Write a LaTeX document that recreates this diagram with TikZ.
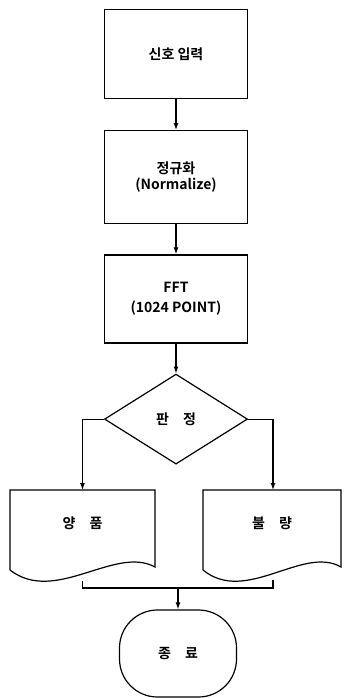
\documentclass[tikz,border=0pt]{standalone}
\usepackage{fontspec}
\usepackage{tikz}
\usetikzlibrary{shapes.geometric, arrows.meta, positioning, calc}
\newfontfamily\krfont{Noto Sans CJK KR}[BoldFont={Noto Sans CJK KR Bold}]
\tikzset{
  font=\krfont\bfseries\fontsize{14}{17}\selectfont,
  procblock/.style={
    rectangle, draw=black, line width=1.2pt,
    minimum width=143pt, align=center, inner sep=0pt
  },
  judgeblock/.style={
    diamond, draw=black, line width=1.2pt,
    minimum width=143pt, minimum height=90pt, inner sep=0pt
  },
  stopblock/.style={
    rectangle, rounded corners=38pt, draw=black, line width=1.2pt,
    minimum width=117pt, minimum height=87pt
  },
  doctext/.style={inner sep=0pt},
  plainline/.style={draw=black, line width=1.2pt},
  flowline/.style={
    draw=black, -{Latex[length=7pt, width=5pt]}, line width=1.2pt
  }
}
% document shape drawn round a text node: #1 name, #2 half width
\newcommand\docoutline[2]{%
  \draw[plainline] ($(#1)+(-#2,47)$) -- ($(#1)+(-#2,-33)$)
    -- ($(#1)+(#2,-33)$) -- ($(#1)+(#2,44)$)
    .. controls ($(#1)+(0.45*#2,22)$) and ($(#1)+(-0.38*#2,82)$) .. ($(#1)+(-#2,47)$);
}
\begin{document}
\begin{tikzpicture}[x=1pt, y=-1pt]
  \useasboundingbox (0,0) rectangle (343,698);

  \node[procblock, minimum height=89pt] (input) at (176,54) {신호 입력};
  \node[procblock, minimum height=93pt, below=31pt of input] (norm) {
    정규화\\[-1pt]
    (Normalize)
  };
  \node[procblock, minimum height=88pt, below=30pt of norm] (fft) {
    FFT\\[3pt]
    (1024 POINT)
  };
  \node[judgeblock, below=30pt of fft] (judge) {판\quad 정};

  \node[doctext] (good) at (82.5,523) {양\quad 품};
  \node[doctext] (bad) at (272,523) {불\quad 량};
  \docoutline{good}{72.5}
  \docoutline{bad}{69}

  \node[stopblock] (stop) at (178,653.5) {종\quad 료};

  \coordinate (goodtop) at ($(good)+(0,-33)$);
  \coordinate (badtop) at ($(bad)+(1,-33)$);
  \coordinate (goodbot) at ($(good)+(0,58)$);
  \coordinate (badbot) at ($(bad)+(1,57)$);
  \coordinate (goodjoin) at ($(good)+(0,65)$);
  \coordinate (badjoin) at ($(bad)+(1,65)$);
  \coordinate (merge) at (goodjoin -| stop);

  \draw[flowline] (input) -- (norm);
  \draw[flowline] (norm) -- (fft);
  \draw[flowline] (fft) -- (judge);
  \draw[flowline] (judge.west) -| (goodtop);
  \draw[flowline] (judge.east) -| (badtop);
  \draw[plainline] (goodbot) -- (goodjoin) -- (badjoin) -- (badbot);
  \draw[flowline] (merge) -- (stop);
\end{tikzpicture}
\end{document}
